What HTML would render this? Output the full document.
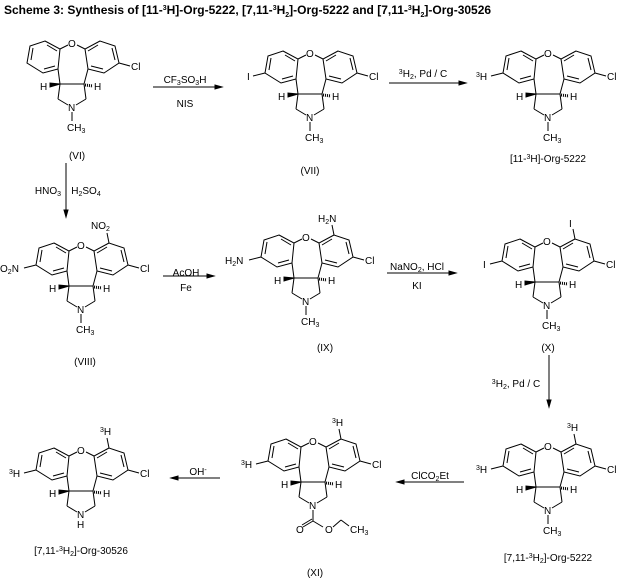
<!DOCTYPE html>
<html><head><meta charset="utf-8"><style>
html,body{margin:0;padding:0;background:#fff;}
svg{display:block;font-family:"Liberation Sans",sans-serif;}
text{font-size:10px;fill:#000;}
.t{font-size:12px;font-weight:bold;}
.s{font-size:7px;}
.m{text-anchor:middle;}
</style></head><body>
<svg width="618" height="578" viewBox="0 0 618 578" xmlns="http://www.w3.org/2000/svg">
<defs>
<g id="core" stroke="#000" stroke-width="1" fill="none">
<polygon points="43,42 58,50 56,70 41,74 25,64 28,47"/>
<polygon points="98,42 83,50 86,70 102,74 117,64 113,47"/>
<line x1="45" y1="46" x2="55" y2="52"/><line x1="53" y1="67" x2="42" y2="70"/><line x1="29" y1="61" x2="31" y2="49"/>
<line x1="96" y1="46" x2="86" y2="52"/><line x1="89" y1="67" x2="101" y2="70"/><line x1="113" y1="61" x2="110" y2="49"/>
<line x1="58" y1="50" x2="66" y2="46"/><line x1="83" y1="50" x2="75" y2="46"/>
<line x1="56" y1="70" x2="58" y2="85"/><line x1="86" y1="70" x2="82" y2="85"/>
<line x1="58" y1="85" x2="82" y2="85"/>
<line x1="58" y1="85" x2="56" y2="100"/><line x1="56" y1="100" x2="66" y2="106"/>
<line x1="82" y1="85" x2="84" y2="100"/><line x1="84" y1="100" x2="74" y2="106"/>
<line x1="117" y1="64" x2="128" y2="67"/>
<polygon points="58,85 48,84 48,88" fill="#000"/>
<line x1="83" y1="86" x2="91" y2="87" stroke-width="3" stroke-dasharray="1,1"/>
</g>
<g id="nme" stroke="#000" fill="none"><line x1="70" y1="113" x2="70" y2="122"/></g>
<g id="sl" stroke="#000" fill="none"><line x1="25" y1="64" x2="13" y2="67"/></g>
<g id="st" stroke="#000" fill="none"><line x1="98" y1="42" x2="96" y2="32"/></g>
<g id="atoms">
<text x="66" y="48">O</text>
<text x="38" y="91">H</text><text x="92" y="91">H</text>
<text x="66" y="112">N</text>
</g>
<g id="me"><text x="65" y="132">CH<tspan class="s" dy="2">3</tspan></text></g>
</defs>

<text x="4" y="14" class="t">Scheme 3: Synthesis of [11-<tspan class="s" dy="-4">3</tspan><tspan dy="4">H]-Org-5222, [7,11-</tspan><tspan class="s" dy="-4">3</tspan><tspan dy="4">H</tspan><tspan class="s" dy="3">2</tspan><tspan dy="-3">]-Org-5222 and [7,11-</tspan><tspan class="s" dy="-4">3</tspan><tspan dy="4">H</tspan><tspan class="s" dy="3">2</tspan><tspan dy="-3">]-Org-30526</tspan></text>

<!-- VI -->
<g transform="translate(2,-1)">
<use href="#core"/><use href="#nme"/><use href="#atoms"/><use href="#me"/>
<text x="129" y="71">Cl</text>
</g>
<text x="77" y="159" class="m">(VI)</text>

<!-- VII -->
<g transform="translate(240,9)">
<use href="#core"/><use href="#nme"/><use href="#sl"/><use href="#atoms"/><use href="#me"/>
<text x="129" y="71">Cl</text><text x="7" y="71">I</text>
</g>
<text x="310" y="174" class="m">(VII)</text>

<!-- Org-5222 top -->
<g transform="translate(478,9)">
<use href="#core"/><use href="#nme"/><use href="#sl"/><use href="#atoms"/><use href="#me"/>
<text x="129" y="71">Cl</text>
<text x="-2" y="71"><tspan class="s" dy="-3">3</tspan><tspan dy="3">H</tspan></text>
</g>
<text x="548" y="162" class="m">[11-<tspan class="s" dy="-3">3</tspan><tspan dy="3">H]-Org-5222</tspan></text>

<!-- VIII -->
<g transform="translate(11,201)">
<use href="#core"/><use href="#nme"/><use href="#sl"/><use href="#st"/><use href="#atoms"/><use href="#me"/>
<text x="129" y="71">Cl</text>
<text x="-11" y="71">O<tspan class="s" dy="2">2</tspan><tspan dy="-2">N</tspan></text>
<text x="80" y="28">NO<tspan class="s" dy="2">2</tspan></text>
</g>
<text x="85" y="365" class="m">(VIII)</text>

<!-- IX -->
<g transform="translate(236,193)">
<use href="#core"/><use href="#nme"/><use href="#sl"/><use href="#st"/><use href="#atoms"/><use href="#me"/>
<text x="129" y="71">Cl</text>
<text x="-11" y="71">H<tspan class="s" dy="2">2</tspan><tspan dy="-2">N</tspan></text>
<text x="82" y="29">H<tspan class="s" dy="2">2</tspan><tspan dy="-2">N</tspan></text>
</g>
<text x="325" y="351" class="m">(IX)</text>

<!-- X -->
<g transform="translate(477,197)">
<use href="#core"/><use href="#nme"/><use href="#sl"/><use href="#st"/><use href="#atoms"/><use href="#me"/>
<text x="129" y="71">Cl</text>
<text x="6" y="71">I</text><text x="92" y="30">I</text>
</g>
<text x="548" y="351" class="m">(X)</text>

<!-- 7,11 Org-5222 -->
<g transform="translate(478,402)">
<use href="#core"/><use href="#nme"/><use href="#sl"/><use href="#st"/><use href="#atoms"/><use href="#me"/>
<text x="129" y="71">Cl</text>
<text x="-2" y="71"><tspan class="s" dy="-3">3</tspan><tspan dy="3">H</tspan></text>
<text x="89" y="29"><tspan class="s" dy="-3">3</tspan><tspan dy="3">H</tspan></text>
</g>
<text x="548" y="561" class="m">[7,11-<tspan class="s" dy="-3">3</tspan><tspan dy="3">H</tspan><tspan class="s" dy="2">2</tspan><tspan dy="-2">]-Org-5222</tspan></text>

<!-- XI -->
<g transform="translate(243,397)">
<use href="#core"/><use href="#sl"/><use href="#st"/><use href="#atoms"/>
<text x="129" y="71">Cl</text>
<text x="-2" y="71"><tspan class="s" dy="-3">3</tspan><tspan dy="3">H</tspan></text>
<text x="89" y="29"><tspan class="s" dy="-3">3</tspan><tspan dy="3">H</tspan></text>
<g stroke="#000" fill="none"><line x1="70" y1="113" x2="70" y2="124"/><line x1="70" y1="124" x2="60" y2="130"/><line x1="69" y1="122" x2="59" y2="128"/><line x1="70" y1="124" x2="80" y2="130"/><line x1="90" y1="130" x2="98" y2="123"/><line x1="98" y1="123" x2="106" y2="129"/></g>
<text x="53" y="136">O</text><text x="82" y="136">O</text><text x="107" y="136">CH<tspan class="s" dy="2">3</tspan></text>
</g>
<text x="315" y="576" class="m">(XI)</text>

<!-- Org-30526 -->
<g transform="translate(11,406)">
<use href="#core"/><use href="#sl"/><use href="#st"/><use href="#atoms"/>
<text x="129" y="71">Cl</text>
<text x="-2" y="71"><tspan class="s" dy="-3">3</tspan><tspan dy="3">H</tspan></text>
<text x="89" y="29"><tspan class="s" dy="-3">3</tspan><tspan dy="3">H</tspan></text>
<text x="66" y="122">H</text>
</g>
<text x="81" y="554" class="m">[7,11-<tspan class="s" dy="-3">3</tspan><tspan dy="3">H</tspan><tspan class="s" dy="2">2</tspan><tspan dy="-2">]-Org-30526</tspan></text>

<!-- arrows -->
<g stroke="#000" fill="#000">
<line x1="153" y1="87" x2="218" y2="87"/><polygon points="222,87 215,85 215,89"/>
<line x1="389" y1="83" x2="462" y2="83"/><polygon points="466,83 459,81 459,85"/>
<line x1="66" y1="163" x2="66" y2="213"/><polygon points="66,217 64,210 68,210"/>
<line x1="163" y1="276" x2="210" y2="276"/><polygon points="214,276 207,274 207,278"/>
<line x1="387" y1="273" x2="452" y2="273"/><polygon points="456,273 449,271 449,275"/>
<line x1="549" y1="355" x2="549" y2="403"/><polygon points="549,407 547,400 551,400"/>
<line x1="464" y1="482" x2="401" y2="482"/><polygon points="397,482 404,480 404,484"/>
<line x1="220" y1="478" x2="175" y2="478"/><polygon points="171,478 178,476 178,480"/>
</g>
<text x="185" y="83" class="m">CF<tspan class="s" dy="2">3</tspan><tspan dy="-2">SO</tspan><tspan class="s" dy="2">3</tspan><tspan dy="-2">H</tspan></text>
<text x="185" y="107" class="m">NIS</text>
<text x="423" y="77" class="m"><tspan class="s" dy="-3">3</tspan><tspan dy="3">H</tspan><tspan class="s" dy="2">2</tspan><tspan dy="-2">, Pd / C</tspan></text>
<text x="48" y="194" class="m">HNO<tspan class="s" dy="2">3</tspan></text>
<text x="86" y="194" class="m">H<tspan class="s" dy="2">2</tspan><tspan dy="-2">SO</tspan><tspan class="s" dy="2">4</tspan></text>
<text x="186" y="276" class="m">AcOH</text>
<text x="186" y="291" class="m">Fe</text>
<text x="417" y="270" class="m">NaNO<tspan class="s" dy="2">2</tspan><tspan dy="-2">, HCl</tspan></text>
<text x="417" y="289" class="m">KI</text>
<text x="516" y="387" class="m"><tspan class="s" dy="-3">3</tspan><tspan dy="3">H</tspan><tspan class="s" dy="2">2</tspan><tspan dy="-2">, Pd / C</tspan></text>
<text x="430" y="479" class="m">ClCO<tspan class="s" dy="2">2</tspan><tspan dy="-2">Et</tspan></text>
<text x="198" y="475" class="m">OH<tspan class="s" dy="-3">-</tspan></text>
</svg>
</body></html>
